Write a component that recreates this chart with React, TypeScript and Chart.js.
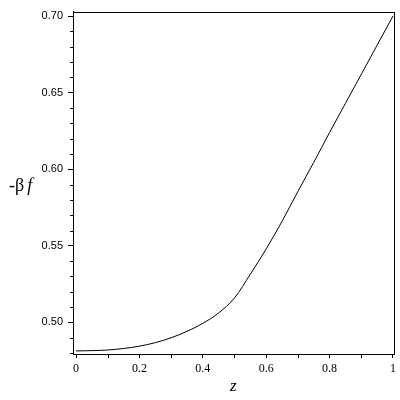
import React, { useEffect, useRef } from "react";
import { Chart, registerables } from "chart.js";

Chart.register(...registerables);

const zValues = [0, 0.05, 0.1, 0.15, 0.2, 0.25, 0.3, 0.35, 0.4, 0.45, 0.5, 0.55, 0.6, 0.65, 0.7, 0.75, 0.8, 0.85, 0.9, 0.95, 1.0];
const betaF = [0.4814, 0.4816, 0.482, 0.483, 0.4845, 0.4868, 0.49, 0.4942, 0.4994, 0.5062, 0.516, 0.5315, 0.548, 0.566, 0.5855, 0.6045, 0.624, 0.643, 0.662, 0.681, 0.7];
const xMajorTicks = [0, 0.2, 0.4, 0.6, 0.8, 1];
const xMinorTicks = [0.1, 0.3, 0.5, 0.7, 0.9];
const yMajorTicks = [0.5, 0.55, 0.6, 0.65, 0.7];
const yMinorTicks = [0.48, 0.49, 0.51, 0.52, 0.53, 0.54, 0.56, 0.57, 0.58, 0.59, 0.61, 0.62, 0.63, 0.64, 0.66, 0.67, 0.68, 0.69];
const xTitle = "z";
const yTitleA = "-β";
const yTitleB = "f";

const Y_TICK_FONT = { family: "'Liberation Sans', Arial, sans-serif", size: 11 };
const X_TICK_FONT = { family: "'Liberation Serif', 'Times New Roman', serif", size: 12 };

const framePlugin = {
  id: "frame",
  afterDraw(chart: any) {
    const { ctx, chartArea } = chart;
    const xs = chart.scales.x;
    const ys = chart.scales.y;
    ctx.save();
    ctx.strokeStyle = "#000";
    ctx.lineWidth = 1;
    ctx.strokeRect(Math.round(chartArea.left) + 0.5, Math.round(chartArea.top) + 0.5,
      Math.round(chartArea.right - chartArea.left), Math.round(chartArea.bottom - chartArea.top));
    // minor ticks
    ctx.beginPath();
    for (const v of xMinorTicks) {
      const px = Math.round(xs.getPixelForValue(v)) + 0.5;
      ctx.moveTo(px, chartArea.bottom);
      ctx.lineTo(px, chartArea.bottom + 4);
    }
    for (const v of yMinorTicks) {
      const py = Math.round(ys.getPixelForValue(v)) + 0.5;
      if (py > chartArea.bottom || py < chartArea.top) continue;
      ctx.moveTo(chartArea.left, py);
      ctx.lineTo(chartArea.left - 3, py);
    }
    ctx.stroke();
    // axis titles
    ctx.fillStyle = "#000";
    ctx.textBaseline = "alphabetic";
    ctx.font = "italic 17px 'Liberation Serif', 'Times New Roman', serif";
    ctx.textAlign = "center";
    ctx.fillText(xTitle, (chartArea.left + chartArea.right) / 2, 391);
    ctx.textAlign = "left";
    ctx.font = "18px 'Liberation Serif', 'Times New Roman', serif";
    const yMid = (chartArea.top + chartArea.bottom) / 2;
    ctx.fillText(yTitleA, 9, yMid + 8);
    const w = ctx.measureText(yTitleA).width;
    ctx.font = "italic 18px 'Liberation Serif', 'Times New Roman', serif";
    ctx.fillText(yTitleB, 9 + w + 3, yMid + 8);
    ctx.restore();
  },
};

export default function App() {
  const ref = useRef<HTMLCanvasElement>(null);
  useEffect(() => {
    if (!ref.current) return;
    const chart = new Chart(ref.current, {
      type: "line",
      data: {
        datasets: [
          {
            data: zValues.map((z, i) => ({ x: z, y: betaF[i] })),
            borderColor: "#000",
            borderWidth: 1,
            pointRadius: 0,
            tension: 0.4,
            cubicInterpolationMode: "monotone",
            fill: false,
          },
        ],
      },
      options: {
        animation: false,
        responsive: false,
        layout: { padding: { left: 0, top: 9, right: 6, bottom: 0 } },
        plugins: { legend: { display: false }, tooltip: { enabled: false } },
        scales: {
          x: {
            type: "linear",
            min: -0.0095,
            max: 1.002,
            afterBuildTicks: (s: any) => {
              s.ticks = xMajorTicks.map((v) => ({ value: v }));
            },
            afterFit: (s: any) => {
              s.height = 46;
            },
            grid: { display: true, drawOnChartArea: false, tickLength: 4, color: "#000", tickColor: "#000" },
            border: { display: true, color: "#000", width: 1 },
            ticks: {
              color: "#000",
              font: X_TICK_FONT,
              padding: 4,
              maxRotation: 0,
              autoSkip: false,
              callback: (v: any) => String(Number(v)),
            },
          },
          y: {
            type: "linear",
            min: 0.4794,
            max: 0.7029,
            afterBuildTicks: (s: any) => {
              s.ticks = yMajorTicks.map((v) => ({ value: v }));
            },
            afterFit: (s: any) => {
              s.width = 73;
            },
            grid: { display: true, drawOnChartArea: false, tickLength: 5, color: "#000", tickColor: "#000" },
            border: { display: true, color: "#000", width: 1 },
            ticks: {
              color: "#000",
              font: Y_TICK_FONT,
              padding: 5,
              autoSkip: false,
              callback: (v: any) => Number(v).toFixed(2),
            },
          },
        },
      },
      plugins: [framePlugin],
    } as any);
    return () => chart.destroy();
  }, []);
  return (
    <div style={{ position: "fixed", left: 0, top: 0, width: 400, height: 400, background: "#fff" }}>
      <canvas ref={ref} width={400} height={400} style={{ display: "block", width: 400, height: 400 }} />
    </div>
  );
}
